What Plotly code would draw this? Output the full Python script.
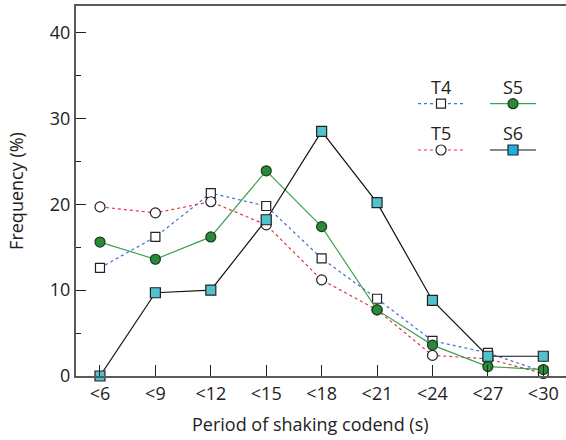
import plotly.graph_objects as go

categories = ["<6", "<9", "<12", "<15", "<18", "<21", "<24", "<27", "<30"]
T4 = [12.6, 16.2, 21.3, 19.8, 13.7, 9.0, 4.1, 2.7, 0.5]
T5 = [19.7, 19.0, 20.3, 17.6, 11.2, 7.7, 2.4, 2.0, 0.3]
S5 = [15.6, 13.6, 16.2, 23.9, 17.4, 7.7, 3.6, 1.1, 0.75]
S6 = [0.0, 9.7, 10.0, 18.2, 28.5, 20.2, 8.8, 2.3, 2.3]

FONT = "Open Sans"
FS = 18
x = list(range(len(categories)))

series = [
    dict(name="T4", y=T4, line=dict(color="#3f6fd6", width=1.2, dash="dot"),
         marker=dict(symbol="square", size=9, color="white", line=dict(color="#222", width=1.2))),
    dict(name="T5", y=T5, line=dict(color="#e8304a", width=1.2, dash="dot"),
         marker=dict(symbol="circle", size=10, color="white", line=dict(color="#222", width=1.2))),
    dict(name="S5", y=S5, line=dict(color="#3ea34f", width=1.2),
         marker=dict(symbol="circle", size=10, color="#2a8a3a", line=dict(color="#1a3a1f", width=1.2))),
    dict(name="S6", y=S6, line=dict(color="#111", width=1.2),
         marker=dict(symbol="square", size=10, color="#4fc2cc", line=dict(color="#222", width=1.2))),
]

fig = go.Figure()
for s in series:
    fig.add_trace(go.Scatter(x=x, y=s["y"], mode="lines+markers", name=s["name"],
                             line=s["line"], marker=s["marker"], showlegend=False,
                             cliponaxis=False))

# custom legend (2x2 grid, label above line sample) on overlay axes in pixel units
leg_pos = {"T4": (441, 103.7), "S5": (513, 103.7), "T5": (441, 150), "S6": (513, 150)}
leg_colors = {"S6": "#22b0e4"}
for s in series:
    cx, cy = leg_pos[s["name"]]
    fig.add_trace(go.Scatter(x=[cx - 23, cx + 23], y=[cy, cy], mode="lines",
                             line=s["line"], xaxis="x2", yaxis="y2", showlegend=False,
                             hoverinfo="skip"))
    mk = dict(s["marker"])
    if s["name"] in leg_colors:
        mk["color"] = leg_colors[s["name"]]
    fig.add_trace(go.Scatter(x=[cx], y=[cy], mode="markers", marker=mk,
                             xaxis="x2", yaxis="y2", showlegend=False, hoverinfo="skip"))
    fig.add_annotation(x=cx, y=cy - 17, xref="x2", yref="y2", text=s["name"],
                       showarrow=False, font=dict(family=FONT, size=FS, color="#222"),
                       xanchor="center", yanchor="middle")

# x-axis title (offset slightly left of the plot centre, as in the original)
fig.add_annotation(x=(310 - 76) / 490, y=(376 - 424) / 370, xref="paper", yref="paper",
                   text="Period of shaking codend (s)", showarrow=False,
                   font=dict(family=FONT, size=FS, color="#222"),
                   xanchor="center", yanchor="middle")

axis_col = "#5a5a5a"
fig.update_layout(
    width=566, height=440,
    margin=dict(l=76, r=0, t=6, b=64),
    paper_bgcolor="white", plot_bgcolor="white",
    font=dict(family=FONT, size=FS, color="#222"),
    xaxis=dict(range=[-0.433, 8.41], tickmode="array", tickvals=x, ticktext=categories,
               ticks="inside", ticklen=11, tickwidth=1.3, tickcolor="#222",
               showline=True, linecolor=axis_col, linewidth=2, mirror=True,
               showgrid=False, zeroline=False,
               tickfont=dict(family=FONT, size=FS)),
    yaxis=dict(range=[0, 43.1], tickvals=[0, 10, 20, 30, 40],
               ticks="inside", ticklen=10, tickwidth=1.3, tickcolor="#222",
               minor=dict(tickvals=[5, 15, 25, 35], ticks="inside", ticklen=5,
                          tickwidth=1.3, tickcolor="#222"),
               showline=True, linecolor=axis_col, linewidth=2,
               showgrid=False, zeroline=False,
               title=dict(text="Frequency (%)", standoff=22, font=dict(family=FONT, size=FS)),
               tickfont=dict(family=FONT, size=FS)),
    xaxis2=dict(range=[76, 566], overlaying="x", visible=False, anchor="y2"),
    yaxis2=dict(range=[376, 6], overlaying="y", visible=False, anchor="x2"),
)

fig.write_html("out.html")
